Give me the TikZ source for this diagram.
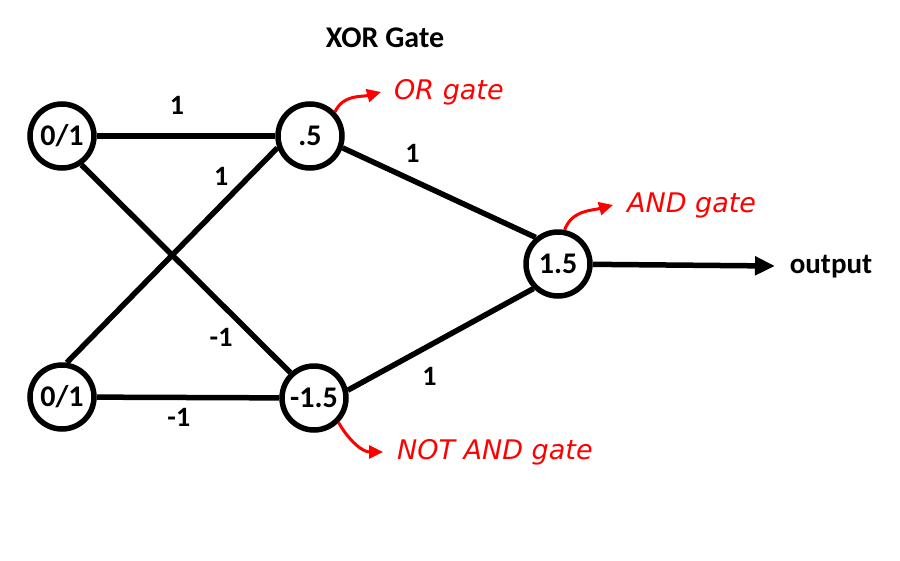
\documentclass[tikz,border=0pt]{standalone}
\usepackage{fontspec}
\setmainfont{Carlito}
\newfontfamily\notefont{DejaVu Sans}
\usetikzlibrary{arrows.meta}
\tikzset{
  neuron/.style={circle, draw, line width=5.5pt, minimum size=64pt, inner sep=0pt,
    font=\bfseries\fontsize{30}{30}\selectfont},
  wire/.style={line width=5.5pt},
  weight/.style={font=\bfseries\fontsize{28}{28}\selectfont, inner sep=0pt},
  note/.style={red, anchor=west, inner sep=0pt,
    font=\notefont\itshape\fontsize{27}{27}\selectfont},
  pointer/.style={red, line width=3pt, -{Triangle[length=14pt,width=13pt]}},
}

\begin{document}
\begin{tikzpicture}[x=1pt, y=-1pt]
    \fill[white] (0,0) rectangle (900,560);
    \useasboundingbox (0,0) rectangle (900,560);

    % neurons
    \node [neuron] (in1) at (62,136) {0/1};
    \node [neuron] (in2) at (62,397) {0/1};
    \node [neuron] (h1) at (310,136) {.5};
    \node [neuron] (h2) at (314,398) {-1.5};
    \node [neuron] (out) at (558,264) {1.5};
    \coordinate (outtip) at (775,266);

    % add labels
    \node [font=\bfseries\fontsize{30}{30}\selectfont] (title) at (385,38) {XOR Gate};
    \node [font=\bfseries\fontsize{29}{29}\selectfont, inner sep=0pt] (outlbl) at (831,267) {output};
    \node [note] (ornote) at (394,92) {OR gate};
    \node [note] (andnote) at (627,205) {AND gate};
    \node [note] (nandnote) at (397,452) {NOT AND gate};

    % draw weights
    \draw [wire] (in1) -- node [weight, pos=.45, yshift=31pt] {1} (h1);
    \draw [wire] (in2.82) -- node [weight, pos=.8, xshift=-14pt, yshift=14pt] {1} (h1.200);
    \draw [wire] (in1.-56) -- node [weight, pos=.75, xshift=-17pt, yshift=-17pt] {-1} (h2.133);
    \draw [wire] (in2) -- node [weight, pos=.45, yshift=-20pt] {-1} (h2);
    \draw [wire] (h1.-20) -- node [weight, pos=.31, xshift=10pt, yshift=22pt] {1} (out.130);
    \draw [wire] (h2.13) -- node [weight, pos=.37, xshift=13pt, yshift=-24pt] {1} (out.225);
    \draw [wire, -{Triangle[length=20pt,width=18pt]}] (out) -- (outtip);

    % gate notes
    \draw [pointer] (h1.44) to [out=65, in=195] ([xshift=-13pt]ornote.west);
    \draw [pointer] (out.79) to [out=70, in=195] ([xshift=-14pt]andnote.west);
    \draw [pointer] (h2.-45) to [out=-60, in=180] ([xshift=-14pt]nandnote.west);
\end{tikzpicture}
\end{document}
